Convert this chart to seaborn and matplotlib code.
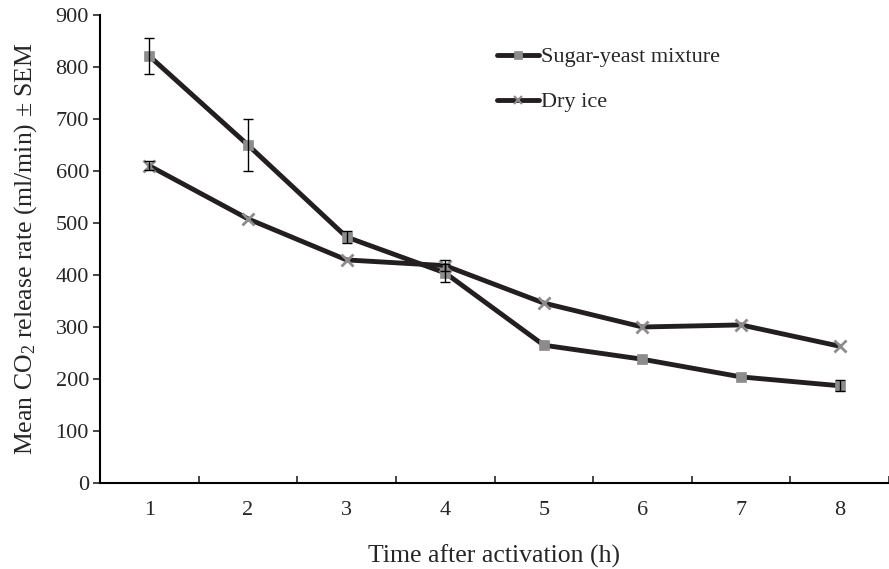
import pandas as pd
import numpy as np
import matplotlib
matplotlib.use("Agg")
import matplotlib.pyplot as plt
import seaborn as sns

# values
hours = [1, 2, 3, 4, 5, 6, 7, 8]
sugar_yeast = [821, 650, 473, 404, 265, 238, 204, 187]
sugar_yeast_sem = [35, 50, 12, 17, 0, 0, 0, 11]
dry_ice = [610, 508, 429, 418, 346, 300, 304, 263]
dry_ice_sem = [9, 0, 0, 11, 0, 0, 0, 0]
series_names = ["Sugar-yeast mixture", "Dry ice"]

df = pd.DataFrame({
    "hour": hours * 2,
    "rate": sugar_yeast + dry_ice,
    "sem": sugar_yeast_sem + dry_ice_sem,
    "series": [series_names[0]] * len(hours) + [series_names[1]] * len(hours),
})

sns.set_style("white")
plt.rcParams["font.family"] = ["Liberation Serif", "DejaVu Serif"]
plt.rcParams["mathtext.fontset"] = "custom"
plt.rcParams["mathtext.rm"] = "Liberation Serif"
plt.rcParams["mathtext.it"] = "Liberation Serif:italic"

line_col = "#231f20"
mark_col = "#8c8c8c"

fig = plt.figure(figsize=(8.89, 5.69), dpi=100)
ax = fig.add_axes([100 / 889, 1 - 483 / 569, 789 / 889, 468 / 569])

sns.lineplot(data=df, x="hour", y="rate", hue="series", style="series",
             palette=[line_col, line_col], markers=["s", "X"], dashes=False,
             linewidth=3.5, markersize=8, ax=ax, legend=True)

# recolour markers in grey
for ln, mk in zip(ax.lines[:2], ["s", "x"]):
    ln.set_marker(mk)
    ln.set_markerfacecolor(mark_col)
    ln.set_markeredgecolor(mark_col)
    ln.set_markersize(6.5 if mk == "s" else 8)
    ln.set_markeredgewidth(0.5 if mk == "s" else 2)

for name, grp in df.groupby("series", sort=False):
    g = grp[grp["sem"] > 0]
    ax.errorbar(g["hour"], g["rate"], yerr=g["sem"], fmt="none",
                ecolor="black", elinewidth=1, capsize=3.5, capthick=1, zorder=5)

ax.set_xlim(0.5, 8.5)
ax.set_ylim(0, 900)
ax.set_yticks(range(0, 901, 100))
ax.set_xticks(hours)
ax.set_xticks(np.arange(0.5, 8.6, 1), minor=True)
ax.tick_params(axis="x", which="major", length=0, labelsize=16, pad=13)
ax.tick_params(axis="x", which="minor", length=5, width=1.2, direction="in", bottom=True)
ax.tick_params(axis="y", length=5, width=1.2, direction="out", left=True, labelsize=16, pad=3)

for s in ["top", "right"]:
    ax.spines[s].set_visible(False)
for s in ["left", "bottom"]:
    ax.spines[s].set_linewidth(1.5)
    ax.spines[s].set_color("black")

ax.set_xlabel("Time after activation (h)", fontsize=18.5, labelpad=18)
ax.set_ylabel("Mean CO$_2$ release rate (ml/min) ± SEM", fontsize=18.5, labelpad=12)

handles, labels = ax.get_legend_handles_labels()
for h, mk in zip(handles, ["s", "x"]):
    h.set_color(line_col)
    h.set_marker(mk)
    h.set_markerfacecolor(mark_col)
    h.set_markeredgecolor(mark_col)
    h.set_linewidth(3.5)
    h.set_markersize(6)
    h.set_markeredgewidth(0.5 if mk == "s" else 1.5)
ax.legend(handles, labels, loc="upper left", bbox_to_anchor=(0.503, 0.932),
          frameon=False, fontsize=16, handlelength=1.9, handletextpad=0.1,
          labelspacing=1.1, borderpad=0, borderaxespad=0)

fig.savefig("out.png", dpi=100)
